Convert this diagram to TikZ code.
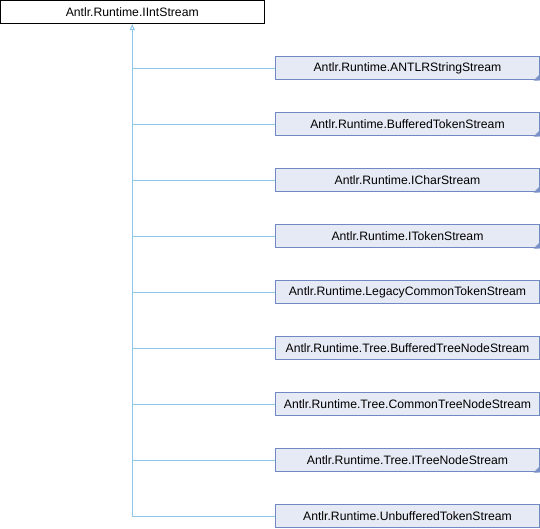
\documentclass[tikz,border=0pt]{standalone}
\usepackage{fontspec}
\setmainfont{Liberation Sans}
\usetikzlibrary{arrows.meta}
\definecolor{edgecol}{HTML}{8EC6EA}
\definecolor{boxfill}{HTML}{E6EAF4}
\definecolor{boxline}{HTML}{7089C4}
\definecolor{tricol}{HTML}{7A91C8}
\tikzset{
  rootbox/.style={draw=black, fill=white, line width=1pt, minimum width=263.5pt, minimum height=23pt, inner sep=0pt, font=\fontsize{12.2}{14}\selectfont},
  childbox/.style={draw=boxline, fill=boxfill, line width=1pt, minimum width=264pt, minimum height=23pt, inner sep=0pt, font=\fontsize{12.2}{14}\selectfont},
  edge/.style={draw=edgecol, line width=1pt},
  inh/.style={edge, -{Triangle[open, width=5pt, length=6pt]}},
  corner/.style={fill=tricol}
}
\begin{document}
\begin{tikzpicture}[x=1pt,y=-1pt]
\useasboundingbox (0,0) rectangle (540,528);
\node[rootbox] (root) at (132.25,12) {Antlr.Runtime.IIntStream};
\node[childbox] (c1) at (407.5,68) {Antlr.Runtime.ANTLRStringStream};
\node[childbox] (c2) at (407.5,124) {Antlr.Runtime.BufferedTokenStream};
\node[childbox] (c3) at (407.5,180) {Antlr.Runtime.ICharStream};
\node[childbox] (c4) at (407.5,236) {Antlr.Runtime.ITokenStream};
\node[childbox] (c5) at (407.5,292) {Antlr.Runtime.LegacyCommonTokenStream};
\node[childbox] (c6) at (407.5,348) {Antlr.Runtime.Tree.BufferedTreeNodeStream};
\node[childbox] (c7) at (407.5,404) {Antlr.Runtime.Tree.CommonTreeNodeStream};
\node[childbox] (c8) at (407.5,460) {Antlr.Runtime.Tree.ITreeNodeStream};
\node[childbox] (c9) at (407.5,516) {Antlr.Runtime.UnbufferedTokenStream};
\foreach \n in {c1,c2,c3,c4,c8}{
  \fill[corner] ([xshift=-0.5pt,yshift=-0.5pt]\n.south east) -- ++(-6,0) -- ++(6,-6) -- cycle;
}
\foreach \n in {c1,c2,c3,c4,c5,c6,c7,c8}{
  \draw[edge] (\n.west) -- (\n.west -| root.south);
}
\draw[inh] (c9.west) -| (root.south);
\end{tikzpicture}
\end{document}
